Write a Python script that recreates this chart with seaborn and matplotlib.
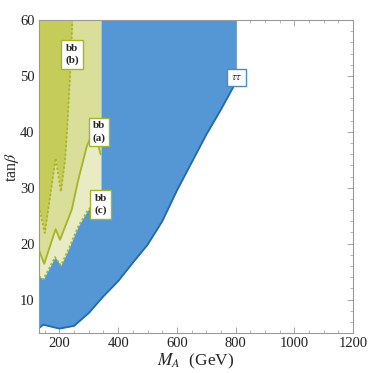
import numpy as np
import pandas as pd
import seaborn as sns
import matplotlib.pyplot as plt
from matplotlib.ticker import MultipleLocator

# tau tau exclusion boundary (lower edge), region above is excluded
ma_tt = [130, 145, 200, 250, 300, 350, 400, 450, 500, 550, 600, 650, 700, 750, 800]
tb_tt = [4.9, 5.5, 4.8, 5.3, 7.6, 10.6, 13.3, 16.6, 19.8, 24.0, 29.5, 34.5, 39.5, 44.0, 48.8]

# bb boundaries (a), (b), (c)
ma_a = [130, 148, 187, 202, 242, 264, 293, 310, 325, 340]
tb_a = [18.9, 16.4, 22.6, 20.7, 26.1, 31.4, 37.4, 39.5, 39.0, 36.0]

ma_b = [130, 150, 187, 205, 219, 225, 236, 244]
tb_b = [26.7, 21.9, 35.3, 29.3, 35.0, 39.5, 50.0, 60.0]

ma_c = [130, 145, 185, 205, 230, 264, 298, 320, 340]
tb_c = [14.2, 13.6, 17.6, 16.1, 18.9, 23.1, 26.1, 27.0, 28.0]

sns.set_theme(style="ticks")
plt.rcParams['font.family'] = ['Liberation Serif', 'DejaVu Serif']
plt.rcParams['mathtext.fontset'] = 'stix'

blue_fill = '#5596d4'
blue_line = '#1a6cc0'
olive_line = '#a8b423'
light = '#e8ebc4'
medium = '#d9de98'
dark = '#c6cc5a'

fig = plt.figure(figsize=(3.74, 3.73), dpi=100)
ax = fig.add_axes([0.104, 0.107, 0.84, 0.839])

# tau tau region
ax.fill_between(ma_tt, tb_tt, 60, color=blue_fill, lw=0)
sns.lineplot(x=ma_tt, y=tb_tt, ax=ax, color=blue_line, lw=1.3, sort=False, estimator=None)
ax.plot([800, 800], [tb_tt[-1], 60], color='#6fa6dc', lw=0.8)

# bb regions, drawn on top
ax.fill_between(ma_c, tb_c, 60, color=light, lw=0)
ax.fill_between(ma_a, tb_a, 60, color=medium, lw=0)
ax.fill_between(ma_b, tb_b, 60, color=dark, lw=0)
ax.plot([340, 340], [tb_c[-1], 60], color='#c9d07a', lw=0.6)

sns.lineplot(x=ma_c, y=tb_c, ax=ax, color=olive_line, lw=1.3, ls=(0, (1.2, 1.2)), sort=False, estimator=None)
sns.lineplot(x=ma_a, y=tb_a, ax=ax, color=olive_line, lw=1.3, sort=False, estimator=None)
sns.lineplot(x=ma_b, y=tb_b, ax=ax, color=olive_line, lw=1.3, ls=(0, (1.2, 1.2)), sort=False, estimator=None)

# labels
box_olive = dict(boxstyle='square,pad=0.35', fc='white', ec=olive_line, lw=1.0)
box_blue = dict(boxstyle='square,pad=0.35', fc='white', ec='#4a8ad0', lw=1.0)
lab_kw = dict(ha='center', va='center', fontsize=8, fontweight='bold', linespacing=1.35)
ax.text(243, 53.9, 'bb\n(b)', bbox=box_olive, **lab_kw)
ax.text(335, 40, 'bb\n(a)', bbox=box_olive, **lab_kw)
ax.text(340, 27, 'bb\n(c)', bbox=box_olive, **lab_kw)
ax.text(802, 49.8, r'$\tau\tau$', ha='center', va='center', fontsize=8, bbox=box_blue)

ax.set_xlim(130, 1200)
ax.set_ylim(4, 60)
ax.xaxis.set_major_locator(MultipleLocator(200))
ax.xaxis.set_minor_locator(MultipleLocator(50))
ax.yaxis.set_major_locator(MultipleLocator(10))
ax.yaxis.set_minor_locator(MultipleLocator(2))
ax.tick_params(which='both', direction='in', top=True, right=True, color='#999999',
               labelsize=10.5, labelcolor='#222222')
ax.tick_params(which='major', length=4, width=0.6, pad=3)
ax.tick_params(which='minor', length=2, width=0.5)
for s in ax.spines.values():
    s.set_color('#999999')
    s.set_linewidth(0.8)

ax.set_xlabel(r'$M_A$  (GeV)', fontsize=12.5, labelpad=1)
ax.set_ylabel(r'tan$\beta$', fontsize=11.5)
ax.yaxis.set_label_coords(-0.056, 0.53)

fig.savefig('out.png', dpi=100)
